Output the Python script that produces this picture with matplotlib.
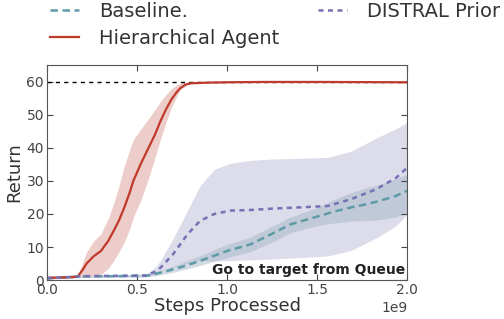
import matplotlib.pyplot as plt
import numpy as np

# values (x in units of 1e9 steps)
x_hier = [0.0, 0.1, 0.17, 0.2, 0.22, 0.26, 0.3, 0.34, 0.37, 0.4, 0.43, 0.46, 0.48, 0.52, 0.56, 0.6, 0.63, 0.66, 0.69, 0.72, 0.74, 0.77, 0.8, 0.9, 1.0, 1.2, 1.5, 2.0]
y_hier = [0.7, 0.8, 1.0, 3.2, 5.0, 7.2, 8.8, 11.8, 14.8, 18.0, 22.0, 26.5, 30.0, 35.0, 39.5, 44.0, 48.0, 51.5, 54.5, 56.8, 58.0, 59.1, 59.5, 59.7, 59.8, 59.9, 59.9, 59.8]
lo_hier = [0.5, 0.6, 0.8, 1.0, 1.1, 1.3, 1.7, 3.5, 5.8, 8.5, 11.5, 15.5, 19.0, 24.0, 30.0, 37.0, 42.5, 47.5, 52.0, 55.5, 57.5, 58.9, 59.4, 59.6, 59.7, 59.8, 59.8, 59.7]
hi_hier = [1.0, 1.0, 1.4, 5.5, 8.5, 11.8, 14.0, 18.5, 23.0, 28.5, 34.5, 39.5, 42.5, 45.5, 48.5, 51.5, 54.0, 56.0, 57.8, 59.0, 59.5, 59.8, 59.9, 59.9, 60.0, 60.0, 60.0, 59.9]

x_base = [0.0, 0.2, 0.4, 0.55, 0.6, 0.67, 0.75, 0.85, 1.0, 1.13, 1.25, 1.35, 1.5, 1.6, 1.69, 1.78, 1.85, 1.93, 2.0]
y_base = [0.6, 1.1, 1.2, 1.3, 1.8, 2.8, 4.0, 5.8, 8.8, 10.8, 14.0, 16.8, 19.2, 20.8, 22.0, 23.0, 24.0, 25.3, 27.0]
lo_base = [0.3, 0.8, 0.9, 1.0, 1.3, 2.0, 3.0, 4.4, 6.8, 8.6, 11.5, 14.3, 16.5, 17.3, 17.8, 18.0, 18.3, 19.0, 20.0]
hi_base = [0.9, 1.4, 1.5, 1.6, 2.4, 3.6, 5.2, 7.4, 10.8, 13.0, 16.3, 19.0, 22.0, 24.5, 26.5, 28.0, 29.0, 30.5, 32.0]

x_distral = [0.0, 0.2, 0.4, 0.55, 0.6, 0.63, 0.7, 0.78, 0.85, 0.93, 1.02, 1.13, 1.25, 1.41, 1.56, 1.69, 1.83, 1.94, 2.0]
y_distral = [0.5, 1.2, 1.3, 1.4, 2.5, 3.7, 7.8, 13.8, 17.9, 20.0, 21.0, 21.2, 21.6, 22.0, 22.4, 24.5, 27.5, 31.0, 34.0]
lo_distral = [0.3, 0.9, 1.0, 1.0, 1.8, 2.7, 3.8, 5.0, 5.8, 5.8, 5.9, 6.1, 6.4, 6.8, 7.3, 9.0, 12.8, 16.5, 20.0]
hi_distral = [0.8, 1.5, 1.6, 1.8, 3.8, 5.8, 12.5, 21.0, 28.5, 33.5, 35.3, 36.2, 36.6, 36.8, 37.1, 39.0, 43.0, 45.8, 47.7]

optimum = 60
task_name = 'Go to target from Queue'

c_red = '#c0392b'
c_teal = '#5f9ba6'
c_purple = '#7670b5'

fig = plt.figure(figsize=(5.04, 3.19), dpi=100)
ax = fig.add_axes([0.093, 0.122, 0.715, 0.674])

xs = lambda v: np.array(v) * 1e9

ax.fill_between(xs(x_distral), lo_distral, hi_distral, color='#dcdcea', lw=0)
ax.fill_between(xs(x_base), lo_base, hi_base, color='#9fb3c4', alpha=0.45, lw=0)
ax.fill_between(xs(x_hier), lo_hier, hi_hier, color='#ebc8c3', alpha=0.9, lw=0)

ax.axhline(optimum, color='black', ls='--', lw=1, dashes=(3, 3))
ax.plot(xs(x_base), y_base, color=c_teal, ls='--', lw=1.8, dashes=(3, 1.8), label='Baseline.')
ax.plot(xs(x_hier), y_hier, color=c_red, lw=1.6, label='Hierarchical Agent')
ax.plot(xs(x_distral), y_distral, color=c_purple, ls='--', lw=1.8, dashes=(2, 1.8), label='DISTRAL Prior')

ax.set_xlim(0, 2e9)
ax.set_ylim(0, 65)
ax.set_xticks([0, 0.5e9, 1e9, 1.5e9, 2e9])
ax.set_yticks([0, 10, 20, 30, 40, 50, 60])
ax.tick_params(direction='in', top=True, right=True, labelsize=10, colors='#444444', length=4, pad=2)
ax.xaxis.get_offset_text().set_fontsize(10)
ax.xaxis.get_offset_text().set_color('#444444')
for s in ax.spines.values():
    s.set_color('#555555')

ax.set_xlabel('Steps Processed', fontsize=13, color='#333333', labelpad=0)
ax.set_ylabel('Return', fontsize=13, color='#333333', labelpad=2)

ax.text(0.995, 0.015, task_name, transform=ax.transAxes, ha='right', va='bottom',
        fontsize=10, fontweight='bold', color='#222222')

h, l = ax.get_legend_handles_labels()
fig.legend(h, l, ncol=2, loc='upper left', bbox_to_anchor=(0.065, 1.05), frameon=False,
           fontsize=14, columnspacing=2.0, handlelength=1.5, handletextpad=1.0,
           labelspacing=0.45, labelcolor='#333333')

fig.savefig('out.png', dpi=100)
